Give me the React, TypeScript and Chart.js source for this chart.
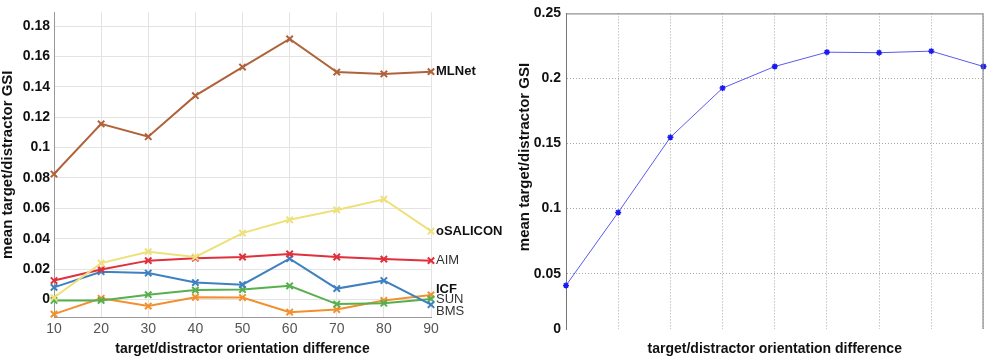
import React, { useEffect, useRef } from "react";
import { Chart, registerables } from "chart.js";

Chart.register(...registerables);

// ---------- Left chart data ----------
const orientations = ["10", "20", "30", "40", "50", "60", "70", "80", "90"];
const mlnet = [0.0826, 0.1156, 0.1072, 0.1342, 0.153, 0.1715, 0.1497, 0.1485, 0.15];
const osalicon = [0.0013, 0.024, 0.0315, 0.028, 0.0437, 0.0525, 0.059, 0.066, 0.045];
const aim = [0.0125, 0.0198, 0.0256, 0.0272, 0.028, 0.03, 0.028, 0.0266, 0.0256];
const icf = [-0.0096, 0.0008, -0.0043, 0.0015, 0.0013, -0.0083, -0.0066, -0.0006, 0.003];
const sun = [-0.0006, -0.0006, 0.0032, 0.0062, 0.0066, 0.009, -0.003, -0.0024, 0.0004];
const bms = [0.008, 0.0183, 0.0174, 0.0112, 0.0098, 0.0269, 0.0072, 0.0125, -0.0034];
const leftYTicks = [0, 0.02, 0.04, 0.06, 0.08, 0.1, 0.12, 0.14, 0.16, 0.18];
const leftYMin = -0.0115;
const leftYMax = 0.189;

// ---------- Right chart data ----------
const rightCategories = ["1", "2", "3", "4", "5", "6", "7", "8", "9"];
const rightGsi = [0.041, 0.0971, 0.1548, 0.1926, 0.2092, 0.2202, 0.2198, 0.221, 0.2092];
const rightYTicks = [0, 0.05, 0.1, 0.15, 0.2, 0.25];
const rightYMin = 0.0075;
const rightYMax = 0.25;

const FONT = "'Liberation Sans', Arial, sans-serif";
const AXIS_TITLE = "target/distractor orientation difference";
const Y_TITLE = "mean target/distractor GSI";

// label styles for series names drawn at the right end of the left chart
const labelStyles: Record<string, { bold: boolean; dy: number; color: string }> = {
  MLNet: { bold: true, dy: 0, color: "#111" },
  oSALICON: { bold: true, dy: 0, color: "#111" },
  AIM: { bold: false, dy: 0, color: "#333" },
  ICF: { bold: true, dy: -6, color: "#111" },
  SUN: { bold: false, dy: 1, color: "#333" },
  BMS: { bold: false, dy: 7, color: "#333" },
};

const fmt = (v: number) => String(Number(v.toFixed(3)));

const endLabelPlugin = {
  id: "endLabels",
  afterDatasetsDraw(chart: any) {
    const { ctx, scales } = chart;
    const xs = scales.x;
    const ys = scales.y;
    chart.data.datasets.forEach((ds: any) => {
      const st = labelStyles[ds.label];
      if (!st) return;
      const last = ds.data[ds.data.length - 1];
      const y = ys.getPixelForValue(last) + st.dy;
      ctx.save();
      ctx.font = `${st.bold ? "bold " : ""}13px ${FONT}`;
      ctx.fillStyle = st.color;
      ctx.textAlign = "left";
      ctx.textBaseline = "middle";
      ctx.fillText(ds.label, xs.right + 5, y);
      ctx.restore();
    });
  },
};

const boxPlugin = {
  id: "boxBorder",
  afterDraw(chart: any) {
    const { ctx, chartArea } = chart;
    ctx.save();
    ctx.strokeStyle = "#777";
    ctx.lineWidth = 1;
    ctx.beginPath();
    ctx.moveTo(chartArea.left, chartArea.top + 0.5);
    ctx.lineTo(chartArea.right - 0.5, chartArea.top + 0.5);
    ctx.lineTo(chartArea.right - 0.5, chartArea.bottom);
    ctx.stroke();
    // right y title
    ctx.translate(25, 157);
    ctx.rotate(-Math.PI / 2);
    ctx.font = `bold 15px ${FONT}`;
    ctx.fillStyle = "#111";
    ctx.textAlign = "center";
    ctx.textBaseline = "middle";
    ctx.fillText(Y_TITLE, 0, 0);
    ctx.restore();
  },
};

function mk(label: string, data: number[], color: string) {
  return {
    label,
    data,
    borderColor: color,
    backgroundColor: color,
    borderWidth: 2,
    pointStyle: "crossRot",
    pointRadius: 4.5,
    pointBorderWidth: 2,
    pointBorderColor: color,
    tension: 0,
    clip: false,
  };
}

export default function App() {
  const leftRef = useRef<HTMLCanvasElement>(null);
  const rightRef = useRef<HTMLCanvasElement>(null);

  useEffect(() => {
    const left = new Chart(leftRef.current!, {
      type: "line",
      data: {
        labels: orientations,
        datasets: [
          mk("MLNet", mlnet, "#b0633a"),
          mk("oSALICON", osalicon, "#eee07a"),
          mk("AIM", aim, "#e0303c"),
          mk("BMS", bms, "#3f80bf"),
          mk("SUN", sun, "#56b04e"),
          mk("ICF", icf, "#f2902e"),
        ],
      },
      options: {
        responsive: false,
        animation: false,
        layout: { padding: { left: 0, top: 5, right: 79, bottom: 0 } },
        plugins: { legend: { display: false }, tooltip: { enabled: false } },
        scales: {
          x: {
            type: "category",
            offset: false,
            grid: { color: "#e3e3e3", drawTicks: false },
            border: { color: "#999", width: 1 },
            ticks: {
              color: "#555",
              font: { family: FONT, size: 14 },
              padding: 4,
              maxRotation: 0,
            },
            title: {
              display: true,
              text: AXIS_TITLE,
              color: "#111",
              font: { family: FONT, size: 14, weight: "bold" },
              padding: { top: 0, bottom: 2 },
            },
            afterFit: (s: any) => {
              s.height = 43;
            },
          },
          y: {
            min: leftYMin,
            max: leftYMax,
            grid: { color: "#e3e3e3", drawTicks: false },
            border: { color: "#999", width: 1 },
            afterBuildTicks: (s: any) => {
              s.ticks = leftYTicks.map((v) => ({ value: v }));
            },
            ticks: {
              color: "#111",
              font: { family: FONT, size: 14, weight: "bold" },
              padding: 4,
              callback: (v: any) => fmt(Number(v)),
            },
            title: {
              display: true,
              text: Y_TITLE,
              color: "#111",
              font: { family: FONT, size: 15, weight: "bold", lineHeight: 1 },
              padding: { top: 0, bottom: 0 },
            },
            afterFit: (s: any) => {
              s.width = 54;
            },
          },
        },
      },
      plugins: [endLabelPlugin],
    } as any);

    const right = new Chart(rightRef.current!, {
      type: "line",
      data: {
        labels: rightCategories,
        datasets: [
          {
            label: "GSI",
            data: rightGsi,
            borderColor: "#5a5af0",
            backgroundColor: "#1a1aee",
            borderWidth: 1,
            pointStyle: "star",
            pointRadius: 3,
            pointBorderWidth: 1.5,
            pointBorderColor: "#1a1aee",
            tension: 0,
            clip: false,
          },
        ],
      },
      options: {
        responsive: false,
        animation: false,
        layout: { padding: { left: 0, top: 8, right: 2, bottom: 0 } },
        plugins: { legend: { display: false }, tooltip: { enabled: false } },
        scales: {
          x: {
            type: "category",
            offset: false,
            grid: { color: "#a8a8a8", drawTicks: false },
            border: { display: false, dash: [1, 2] },
            ticks: { display: false },
            title: {
              display: true,
              text: AXIS_TITLE,
              color: "#111",
              font: { family: FONT, size: 14, weight: "bold" },
              padding: { top: 0, bottom: 2 },
            },
            afterFit: (s: any) => {
              s.height = 31;
            },
          },
          y: {
            min: rightYMin,
            max: rightYMax,
            grid: {
              drawTicks: false,
              color: (c: any) =>
                c.tick && (c.tick.value <= rightYMin + 1e-9 || c.tick.value >= rightYMax - 1e-9)
                  ? "rgba(0,0,0,0)"
                  : "#a8a8a8",
            },
            border: { color: "#777", width: 1, dash: [1, 2] },
            afterBuildTicks: (s: any) => {
              s.ticks = rightYTicks.map((v) => ({ value: Math.max(v, rightYMin) }));
            },
            ticks: {
              color: "#111",
              font: { family: FONT, size: 14, weight: "bold" },
              padding: 5,
              callback: (v: any) => (Number(v) <= rightYMin + 1e-9 ? "0" : fmt(Number(v))),
            },
            afterFit: (s: any) => {
              s.width = 66;
            },
          },
        },
      },
      plugins: [boxPlugin],
    } as any);

    return () => {
      left.destroy();
      right.destroy();
    };
  }, []);

  return (
    <div style={{ position: "fixed", left: 0, top: 0, width: 989, height: 360, background: "#fff" }}>
      <canvas ref={leftRef} width={510} height={360} style={{ position: "absolute", left: 0, top: 0 }} />
      <canvas ref={rightRef} width={489} height={360} style={{ position: "absolute", left: 500, top: 0 }} />
    </div>
  );
}
